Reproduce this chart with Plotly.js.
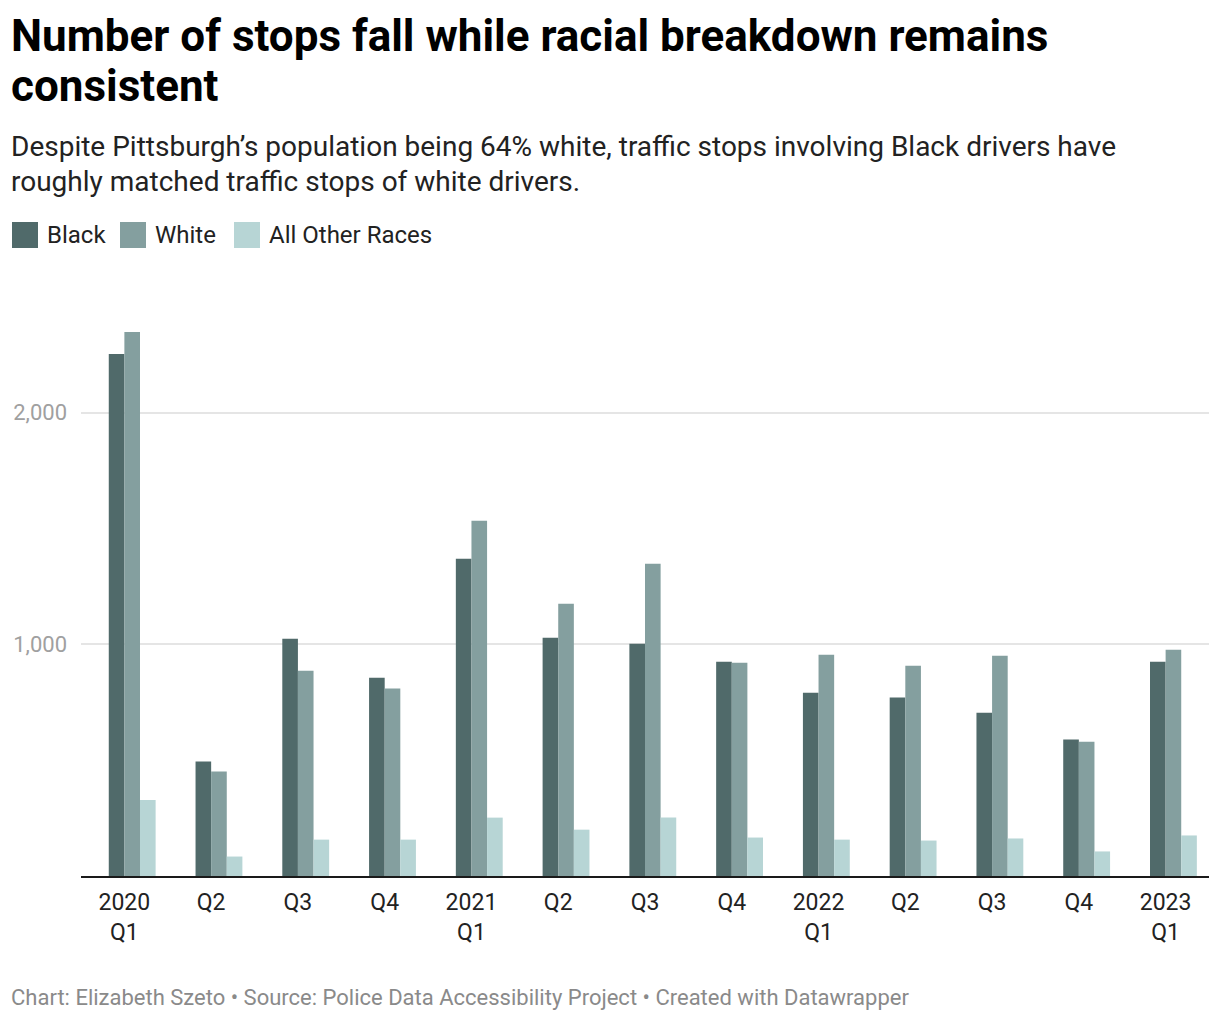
<!DOCTYPE html>
<html>
<head>
<meta charset="utf-8">
<script src="https://cdn.plot.ly/plotly-3.0.1.min.js"></script>
<style>
  html, body { margin: 0; padding: 0; background: #fff; }
  #chart { width: 1220px; height: 1020px; }
</style>
</head>
<body>
<div id="chart"></div>
<script>
// ---- data ----
const periods = ["2020 Q1","2020 Q2","2020 Q3","2020 Q4","2021 Q1","2021 Q2","2021 Q3","2021 Q4","2022 Q1","2022 Q2","2022 Q3","2022 Q4","2023 Q1"];
const tickLabels = ["2020<br>Q1","Q2","Q3","Q4","2021<br>Q1","Q2","Q3","Q4","2022<br>Q1","Q2","Q3","Q4","2023<br>Q1"];
const seriesNames = ["Black", "White", "All Other Races"];
const black = [2253, 494, 1024, 856, 1369, 1028, 1003, 925, 791, 770, 705, 589, 925];
const white = [2348, 451, 886, 809, 1533, 1175, 1348, 921, 955, 908, 951, 580, 977];
const other = [328, 84, 157, 157, 252, 200, 252, 166, 157, 153, 162, 106, 175];
const yTicks = [1000, 2000];

const colors = ["#506a6a", "#849f9f", "#b7d5d5"];
const values = [black, white, other];

// ---- layout geometry ----
const W = 1220, H = 1020;
const M = {l: 81, r: 11, t: 320, b: 144};
const pw = W - M.l - M.r, ph = H - M.t - M.b;
const px = x => (x - M.l) / pw;
const py = y => (H - M.b - y) / ph;

const barW = 0.18;
const offsets = [-barW, 0, barW];

const traces = seriesNames.map((name, i) => ({
  type: "bar",
  name: name,
  x: periods,
  y: values[i],
  width: barW,
  offset: offsets[i],
  marker: {color: colors[i], line: {width: 0}},
  hoverinfo: "x+y+name"
}));

const font = "Roboto, 'Open Sans', sans-serif";

const annotations = [
  {text: "<b>Number of stops fall while racial breakdown remains</b>", x: px(9), y: py(36), size: 44, color: "#000"},
  {text: "<b>consistent</b>", x: px(9), y: py(86), size: 44, color: "#000"},
  {text: "Despite Pittsburgh\u2019s population being 64% white, traffic stops involving Black drivers have", x: px(9), y: py(147), size: 28, color: "#222"},
  {text: "roughly matched traffic stops of white drivers.", x: px(9), y: py(181), size: 28, color: "#222"},
  {text: "Chart: Elizabeth Szeto \u2022 Source: Police Data Accessibility Project \u2022 Created with Datawrapper", x: px(9), y: py(997), size: 22, color: "#8a8a8a"}
].map(a => ({
  text: a.text, x: a.x, y: a.y, xref: "paper", yref: "paper",
  xanchor: "left", yanchor: "middle", showarrow: false,
  font: {family: font, size: a.size, color: a.color}
}));

// custom legend
const legendX = [12, 120, 234];
const shapes = [];
seriesNames.forEach((name, i) => {
  shapes.push({
    type: "rect", xref: "paper", yref: "paper",
    x0: px(legendX[i]), x1: px(legendX[i] + 26),
    y0: py(248), y1: py(222),
    fillcolor: colors[i], line: {width: 0}
  });
  annotations.push({
    text: name, xref: "paper", yref: "paper",
    x: px(legendX[i] + 33), y: py(235),
    xanchor: "left", yanchor: "middle", showarrow: false,
    font: {family: font, size: 24, color: "#222"}
  });
});

const layout = {
  width: W, height: H,
  margin: M,
  paper_bgcolor: "#fff", plot_bgcolor: "#fff",
  showlegend: false,
  barmode: "overlay",
  font: {family: font},
  xaxis: {
    type: "category",
    tickvals: periods,
    ticktext: tickLabels,
    showgrid: false,
    showline: true, linecolor: "#1a1a1a", linewidth: 2,
    ticks: "",
    ticklabelstandoff: 4,
    tickfont: {family: font, size: 23, color: "#222"},
    zeroline: false,
    fixedrange: true
  },
  yaxis: {
    range: [0, 2400],
    tickvals: yTicks,
    tickformat: ",",
    showgrid: true, gridcolor: "#e5e5e5", gridwidth: 2,
    zeroline: false, showline: false,
    ticks: "",
    ticklabelstandoff: 13,
    tickfont: {family: font, size: 22, color: "#a0a0a0"},
    fixedrange: true
  },
  annotations: annotations,
  shapes: shapes
};

Plotly.newPlot("chart", traces, layout, {displayModeBar: false, staticPlot: true});
</script>
</body>
</html>
